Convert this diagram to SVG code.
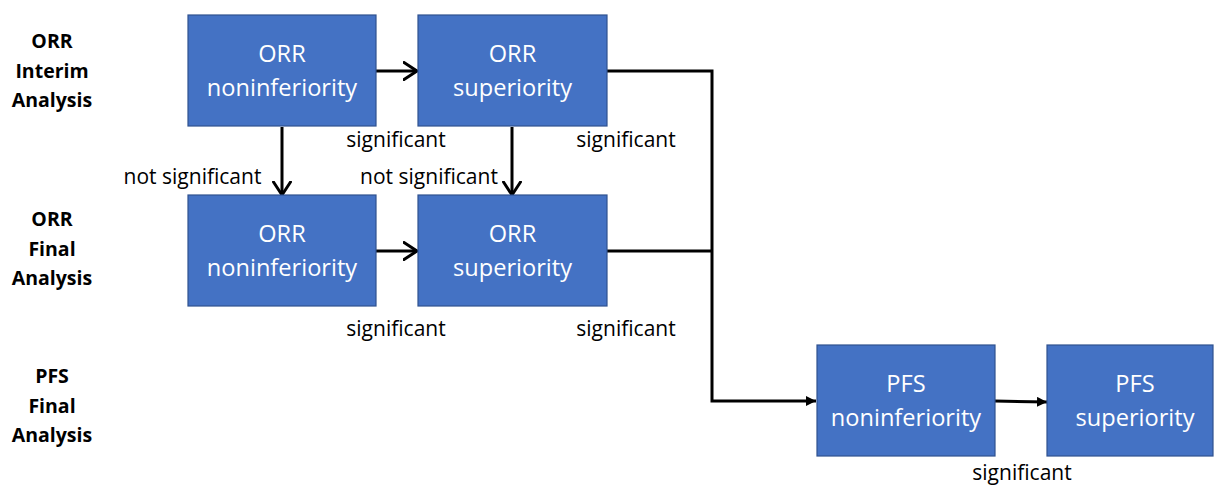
<svg xmlns="http://www.w3.org/2000/svg" width="1215" height="487" viewBox="0 0 1215 487">
<style>
.box{fill:#4472C4;stroke:#2F528F;stroke-width:1.2}
.bt{font-family:"Open Sans","Liberation Sans",sans-serif;font-size:23.6px;fill:#FFFFFF;text-anchor:middle}
.lab{font-family:"Open Sans","Liberation Sans",sans-serif;font-size:21px;fill:#000000;text-anchor:middle}
.row{font-family:"Open Sans","Liberation Sans",sans-serif;font-size:19.5px;font-weight:bold;fill:#000000;text-anchor:middle}
.con{fill:none;stroke:#000000;stroke-width:3}
</style>
<defs>
<marker id="chev" markerUnits="userSpaceOnUse" viewBox="0 0 16 20" markerWidth="16" markerHeight="20" refX="14.5" refY="10" orient="auto">
<path d="M1.5,1.5 L14.5,10 L1.5,18.5" fill="none" stroke="#000000" stroke-width="3" stroke-linejoin="round" stroke-linecap="round"/>
</marker>
<marker id="tri" markerUnits="userSpaceOnUse" viewBox="0 0 10 10" markerWidth="10" markerHeight="10" refX="10" refY="5" orient="auto">
<path d="M0,0 L10,5 L0,10 z" fill="#000000"/>
</marker>
</defs>
<rect width="1215" height="487" fill="#FFFFFF"/>
<g id="row-labels">
<text class="row" x="52" y="48">ORR</text>
<text class="row" x="52" y="78">Interim</text>
<text class="row" x="52" y="107">Analysis</text>
<text class="row" x="52" y="226">ORR</text>
<text class="row" x="52" y="256">Final</text>
<text class="row" x="52" y="285">Analysis</text>
<text class="row" x="52" y="383">PFS</text>
<text class="row" x="52" y="413">Final</text>
<text class="row" x="52" y="442">Analysis</text>
</g>
<g id="connectors">
<line class="con" x1="376" y1="71" x2="417" y2="71" marker-end="url(#chev)"/>
<line class="con" x1="282" y1="127" x2="282" y2="195" marker-end="url(#chev)"/>
<line class="con" x1="512" y1="127" x2="512" y2="195" marker-end="url(#chev)"/>
<line class="con" x1="376" y1="251" x2="417" y2="251" marker-end="url(#chev)"/>
<polyline class="con" points="607,71 712,71 712,401 816,401" marker-end="url(#tri)"/>
<polyline class="con" points="607,251 712,251"/>
<line class="con" x1="995" y1="401" x2="1047" y2="402" marker-end="url(#tri)"/>
<text class="lab" x="396" y="147">significant</text>
<text class="lab" x="626" y="147">significant</text>
<text class="lab" x="192.5" y="184">not significant</text>
<text class="lab" x="429" y="184">not significant</text>
<text class="lab" x="396" y="336">significant</text>
<text class="lab" x="626" y="336">significant</text>
<text class="lab" x="1022" y="480">significant</text>
</g>
<g id="orr-interim-noninferiority">
<rect class="box" x="188" y="15" width="188" height="111"/>
<text class="bt" x="282" y="62">ORR</text>
<text class="bt" x="282" y="96">noninferiority</text>
</g>
<g id="orr-interim-superiority">
<rect class="box" x="418" y="15" width="189" height="111"/>
<text class="bt" x="512.5" y="62">ORR</text>
<text class="bt" x="512.5" y="96">superiority</text>
</g>
<g id="orr-final-noninferiority">
<rect class="box" x="188" y="195" width="188" height="111"/>
<text class="bt" x="282" y="242">ORR</text>
<text class="bt" x="282" y="276">noninferiority</text>
</g>
<g id="orr-final-superiority">
<rect class="box" x="418" y="195" width="189" height="111"/>
<text class="bt" x="512.5" y="242">ORR</text>
<text class="bt" x="512.5" y="276">superiority</text>
</g>
<g id="pfs-noninferiority">
<rect class="box" x="817" y="345" width="178" height="111"/>
<text class="bt" x="906" y="392">PFS</text>
<text class="bt" x="906" y="426">noninferiority</text>
</g>
<g id="pfs-superiority">
<rect class="box" x="1047" y="345" width="166" height="111"/>
<text class="bt" x="1135" y="392">PFS</text>
<text class="bt" x="1135" y="426">superiority</text>
</g>
</svg>
